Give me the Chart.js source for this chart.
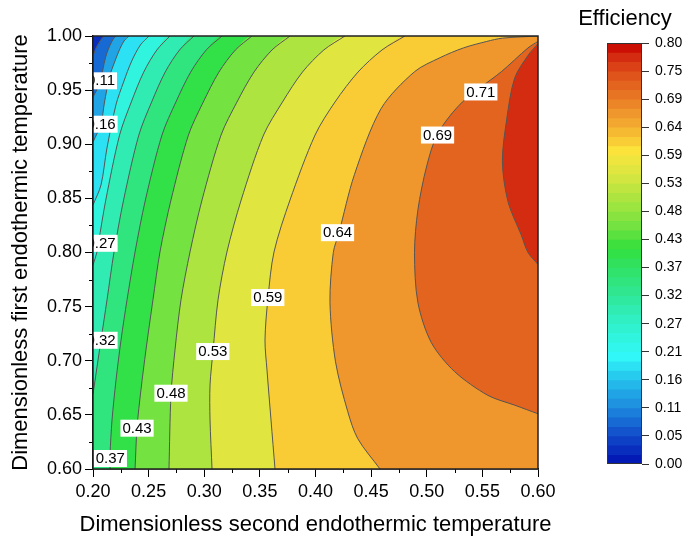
<!DOCTYPE html>
<html>
<head>
<meta charset="utf-8">
<script src="https://cdn.jsdelivr.net/npm/chart.js"></script>
<style>
  html, body { margin: 0; padding: 0; background: #fff; }
  #wrap { position: relative; width: 686px; height: 542px; }
  #plot { position: absolute; left: 0; top: 0; }
  #bar { position: absolute; left: 560px; top: 0; }
</style>
</head>
<body>
<div id="wrap">
  <canvas id="plot" width="686" height="542"></canvas>
  <canvas id="bar" width="126" height="542"></canvas>
</div>
<script>
// ---------------------------------------------
// Contour map: efficiency vs two dimensionless temperatures
// ---------------------------------------------
const FONT = '"Liberation Sans", Arial, Helvetica, sans-serif';

// axes
const xTicks = [0.20, 0.25, 0.30, 0.35, 0.40, 0.45, 0.50, 0.55, 0.60];
const yTicks = [0.60, 0.65, 0.70, 0.75, 0.80, 0.85, 0.90, 0.95, 1.00];

// colour scale
const cbTicks = [0, 0.0533, 0.1067, 0.16, 0.2133, 0.2667, 0.32, 0.3733, 0.4267, 0.48, 0.5333, 0.5867, 0.64, 0.6933, 0.7467, 0.80];
const cbTickLabels = ['0.00', '0.05', '0.11', '0.16', '0.21', '0.27', '0.32', '0.37', '0.43', '0.48', '0.53', '0.59', '0.64', '0.69', '0.75', '0.80'];
const cbBands = 45;

// contour lines: [second temp, first temp]
const contourLevels = [0.0533, 0.1067, 0.16, 0.2133, 0.2667, 0.32, 0.3733, 0.4267, 0.48, 0.5333, 0.5867, 0.64, 0.6933, 0.7467];
const c053 = [[0.200, 0.9815], [0.2027, 0.9889], [0.2063, 0.9954], [0.2099, 1.000]];
const c107 = [[0.200, 0.9436], [0.2072, 0.9584], [0.2088, 0.9686], [0.2114, 0.9806], [0.2135, 0.9871], [0.2158, 0.9926], [0.2182, 0.9972], [0.2207, 1.000]];
const c160 = [[0.200, 0.9021], [0.2072, 0.9187], [0.2102, 0.9381], [0.2150, 0.9630], [0.2191, 0.9751], [0.2233, 0.9861], [0.2279, 0.9954], [0.2324, 1.000]];
const c213 = [[0.200, 0.8439], [0.2072, 0.8624], [0.2124, 0.8956], [0.2206, 0.9363], [0.2275, 0.9575], [0.2348, 0.9769], [0.2426, 0.9917], [0.2503, 1.000]];
const c267 = [[0.200, 0.7885], [0.2036, 0.8005], [0.2049, 0.8088], [0.2115, 0.8485], [0.2239, 0.9085], [0.2344, 0.9390], [0.2456, 0.9667], [0.2574, 0.9871], [0.2692, 1.000]];
const c320 = [[0.200, 0.6693], [0.2072, 0.7192], [0.2126, 0.7563], [0.2189, 0.8005], [0.2275, 0.8485], [0.2412, 0.9085], [0.2527, 0.9390], [0.2649, 0.9667], [0.2778, 0.9871], [0.2908, 1.000]];
const c373 = [[0.2153, 0.600], [0.2153, 0.6129], [0.2171, 0.6453], [0.2207, 0.6822], [0.2252, 0.7192], [0.2306, 0.7563], [0.2378, 0.8005], [0.2471, 0.8485], [0.2620, 0.9085], [0.2745, 0.9390], [0.2878, 0.9667], [0.3018, 0.9871], [0.3160, 1.000]];
const c427 = [[0.2378, 0.600], [0.2396, 0.6388], [0.2431, 0.6730], [0.2476, 0.7100], [0.2539, 0.7563], [0.2602, 0.8005], [0.2701, 0.8485], [0.2858, 0.9085], [0.2991, 0.9390], [0.3132, 0.9667], [0.3280, 0.9871], [0.3429, 1.000]];
const c480 = [[0.2683, 0.600], [0.2701, 0.6684], [0.2737, 0.7100], [0.2791, 0.7563], [0.2872, 0.8005], [0.2980, 0.8485], [0.3151, 0.9085], [0.3294, 0.9390], [0.3447, 0.9667], [0.3609, 0.9871], [0.3771, 1.000]];
const c533 = [[0.3070, 0.600], [0.3052, 0.6453], [0.3052, 0.6776], [0.3079, 0.7090], [0.3124, 0.7563], [0.3204, 0.8005], [0.3332, 0.8485], [0.3533, 0.9085], [0.3703, 0.9390], [0.3883, 0.9667], [0.4075, 0.9871], [0.4265, 1.000]];
const c587 = [[0.3636, 0.600], [0.3600, 0.6453], [0.3564, 0.6915], [0.3546, 0.7192], [0.3573, 0.7580], [0.3627, 0.8005], [0.3771, 0.8485], [0.3996, 0.9085], [0.4175, 0.9390], [0.4382, 0.9667], [0.4598, 0.9871], [0.4804, 1.000]];
const c640 = [[0.458, 0.600], [0.438, 0.628], [0.429, 0.653], [0.418, 0.699], [0.413, 0.754], [0.416, 0.800], [0.421, 0.818], [0.435, 0.872], [0.459, 0.933], [0.489, 0.967], [0.512, 0.980], [0.533, 0.989], [0.554, 0.995], [0.568, 0.998], [0.600, 1.000]];
const c693 = [[0.600, 0.651], [0.579, 0.659], [0.555, 0.668], [0.525, 0.690], [0.504, 0.717], [0.492, 0.754], [0.489, 0.800], [0.492, 0.839], [0.500, 0.880], [0.510, 0.910], [0.532, 0.939], [0.567, 0.967], [0.591, 0.989], [0.600, 0.995]];
const c747 = [[0.600, 0.789], [0.591, 0.800], [0.585, 0.816], [0.573, 0.847], [0.568, 0.884], [0.572, 0.924], [0.579, 0.961], [0.591, 0.982], [0.600, 0.993]];
const contourLines = [c053, c107, c160, c213, c267, c320, c373, c427, c480, c533, c587, c640, c693, c747];

// inline labels on the lines
const labelText = ['0.11', '0.16', '0.27', '0.32', '0.37', '0.43', '0.48', '0.53', '0.59', '0.64', '0.69', '0.71'];
const labelX = [0.2072, 0.2072, 0.2072, 0.2072, 0.2156, 0.2396, 0.2701, 0.3077, 0.3571, 0.4198, 0.5097, 0.5486];
const labelY = [0.9586, 0.9185, 0.8085, 0.7189, 0.6097, 0.6377, 0.6700, 0.7085, 0.7584, 0.8183, 0.9085, 0.9483];

// ---------------------------------------------
// colour map (rainbow, like the original software)
// ---------------------------------------------
const cmap = [
  [0.00, [0, 16, 176]], [0.05, [16, 70, 200]], [0.11, [30, 140, 222]], [0.16, [36, 192, 236]],
  [0.205, [50, 248, 248]], [0.27, [48, 240, 200]], [0.32, [48, 232, 152]], [0.37, [48, 226, 104]],
  [0.41, [50, 224, 60]], [0.45, [112, 226, 64]], [0.50, [168, 228, 64]], [0.55, [216, 230, 64]],
  [0.595, [252, 228, 60]], [0.62, [248, 196, 52]], [0.66, [240, 156, 46]], [0.70, [232, 118, 36]],
  [0.74, [222, 82, 26]], [0.77, [214, 50, 18]], [0.80, [200, 0, 0]]
];
function colorAt(v) {
  for (let i = 1; i < cmap.length; i++) {
    if (v <= cmap[i][0]) {
      const [a, ca] = cmap[i - 1], [b, cb] = cmap[i];
      const t = (v - a) / (b - a);
      const c = ca.map((k, j) => Math.round(k + (cb[j] - k) * t));
      return `rgb(${c[0]},${c[1]},${c[2]})`;
    }
  }
  return 'rgb(200,0,0)';
}

const X0 = 0.2, X1 = 0.6, Y0 = 0.6, Y1 = 1.0;
const bandW = 0.8 / cbBands;
const pts = a => a.map(([x, y]) => ({ x, y }));

// region "efficiency >= level": the line closed through the right-hand corners
function region(line) {
  const p = line.slice();
  p.push([X1, Y1], [X1, Y0]);
  if (line[0][0] === X0) p.push([X0, Y0]);
  return p;
}

const datasets = [
  {
    data: pts([[X0, Y0], [X1, Y0], [X1, Y1], [X0, Y1]]),
    fill: 'shape', backgroundColor: colorAt(bandW * 1.5),
    borderWidth: 0, pointRadius: 0, tension: 0, order: 1000
  },
  ...contourLines.map((l, i) => ({
    data: pts(region(l)),
    fill: 'shape', backgroundColor: colorAt(contourLevels[i] + bandW * 1.5),
    borderWidth: 0, pointRadius: 0, tension: 0.3, order: 500 - i
  })),
  ...contourLines.map(l => ({
    data: pts(l),
    fill: false, borderColor: '#555', borderWidth: 1,
    pointRadius: 0, tension: 0.3, order: 0
  }))
];

// labels, frame, minor ticks, axis titles
const plotDecor = {
  id: 'plotDecor',
  afterDatasetsDraw(chart) {
    const { ctx, chartArea: a, scales: { x, y } } = chart;
    ctx.save();
    ctx.beginPath();
    ctx.rect(a.left, a.top, a.right - a.left, a.bottom - a.top);
    ctx.clip();
    ctx.font = `15px ${FONT}`;
    ctx.textAlign = 'center';
    ctx.textBaseline = 'middle';
    labelText.forEach((t, i) => {
      const px = x.getPixelForValue(labelX[i]);
      const py = y.getPixelForValue(labelY[i]);
      const w = ctx.measureText(t).width + 4;
      ctx.fillStyle = '#fff';
      ctx.fillRect(px - w / 2, py - 8.5, w, 17);
      ctx.fillStyle = '#000';
      ctx.fillText(t, px, py + 0.5);
    });
    ctx.restore();
  },
  afterDraw(chart) {
    const { ctx, chartArea: a, scales: { x, y } } = chart;
    ctx.save();
    ctx.strokeStyle = '#000';
    ctx.lineWidth = 1;
    ctx.beginPath();
    for (let i = 0; i < xTicks.length - 1; i++) {
      const px = Math.round(x.getPixelForValue((xTicks[i] + xTicks[i + 1]) / 2)) + 0.5;
      ctx.moveTo(px, a.bottom); ctx.lineTo(px, a.bottom + 4);
    }
    for (let i = 0; i < yTicks.length - 1; i++) {
      const py = Math.round(y.getPixelForValue((yTicks[i] + yTicks[i + 1]) / 2)) + 0.5;
      ctx.moveTo(a.left, py); ctx.lineTo(a.left - 4, py);
    }
    ctx.stroke();
    ctx.strokeStyle = '#222';
    ctx.lineWidth = 1.5;
    ctx.strokeRect(a.left, a.top, a.right - a.left, a.bottom - a.top);

    ctx.fillStyle = '#000';
    ctx.font = `22px ${FONT}`;
    ctx.textAlign = 'center';
    ctx.textBaseline = 'middle';
    ctx.fillText('Dimensionless second endothermic temperature', (a.left + a.right) / 2, 525);
    ctx.translate(21, (a.top + a.bottom) / 2);
    ctx.rotate(-Math.PI / 2);
    ctx.fillText('Dimensionless first endothermic temperature', 0, 0);
    ctx.restore();
  }
};

new Chart(document.getElementById('plot'), {
  type: 'line',
  data: { datasets },
  options: {
    responsive: false,
    animation: false,
    events: [],
    layout: { padding: { left: 0, top: 36, right: 148, bottom: 0 } },
    plugins: { legend: { display: false }, tooltip: { enabled: false } },
    scales: {
      x: {
        type: 'linear', min: X0, max: X1,
        afterBuildTicks: s => { s.ticks = xTicks.map(v => ({ value: v })); },
        afterFit: s => { s.height = 73; },
        ticks: { callback: v => v.toFixed(2), font: { size: 18, family: FONT }, color: '#000', padding: 4, maxRotation: 0, autoSkip: false },
        grid: { drawOnChartArea: false, tickLength: 8, tickColor: '#000', tickWidth: 1 },
        border: { color: '#000', width: 1.5 }
      },
      y: {
        type: 'linear', min: Y0, max: Y1,
        afterBuildTicks: s => { s.ticks = yTicks.map(v => ({ value: v })); },
        afterFit: s => { s.width = 93; },
        ticks: { callback: v => v.toFixed(2), font: { size: 18, family: FONT }, color: '#000', padding: 3, autoSkip: false },
        grid: { drawOnChartArea: false, tickLength: 8, tickColor: '#000', tickWidth: 1 },
        border: { color: '#000', width: 1.5 }
      }
    }
  },
  plugins: [plotDecor]
});

// ---------------------------------------------
// colour bar
// ---------------------------------------------
const barSets = [];
for (let i = 0; i < cbBands; i++) {
  barSets.push({
    data: [[i * bandW, 0.8]],
    backgroundColor: colorAt((i + 0.5) * bandW),
    borderWidth: 0, grouped: false,
    barPercentage: 1, categoryPercentage: 1,
    order: 100 - i
  });
}

const barDecor = {
  id: 'barDecor',
  afterDatasetsDraw(chart) {
    const { ctx, chartArea: a } = chart;
    ctx.save();
    ctx.strokeStyle = '#333';
    ctx.lineWidth = 1;
    ctx.strokeRect(a.left + 0.5, a.top + 0.5, a.right - a.left - 1, a.bottom - a.top - 1);
    ctx.restore();
  },
  afterDraw(chart) {
    const { ctx } = chart;
    ctx.save();
    ctx.fillStyle = '#000';
    ctx.font = `22px ${FONT}`;
    ctx.textAlign = 'center';
    ctx.textBaseline = 'middle';
    ctx.fillText('Efficiency', 65, 19);
    ctx.restore();
  }
};

new Chart(document.getElementById('bar'), {
  type: 'bar',
  data: { labels: [''], datasets: barSets },
  options: {
    responsive: false,
    animation: false,
    events: [],
    layout: { padding: { left: 47, top: 43, right: 0, bottom: 78 } },
    plugins: { legend: { display: false }, tooltip: { enabled: false } },
    scales: {
      x: { display: false },
      y: {
        position: 'right', min: 0, max: 0.8,
        afterBuildTicks: s => { s.ticks = cbTicks.map(v => ({ value: v })); },
        afterFit: s => { s.width = 44; },
        ticks: { callback: (v, i) => cbTickLabels[i], font: { size: 14, family: FONT }, color: '#000', padding: 6, autoSkip: false },
        grid: { drawOnChartArea: false, tickLength: 7, tickColor: '#333' },
        border: { display: false }
      }
    }
  },
  plugins: [barDecor]
});
</script>
</body>
</html>
